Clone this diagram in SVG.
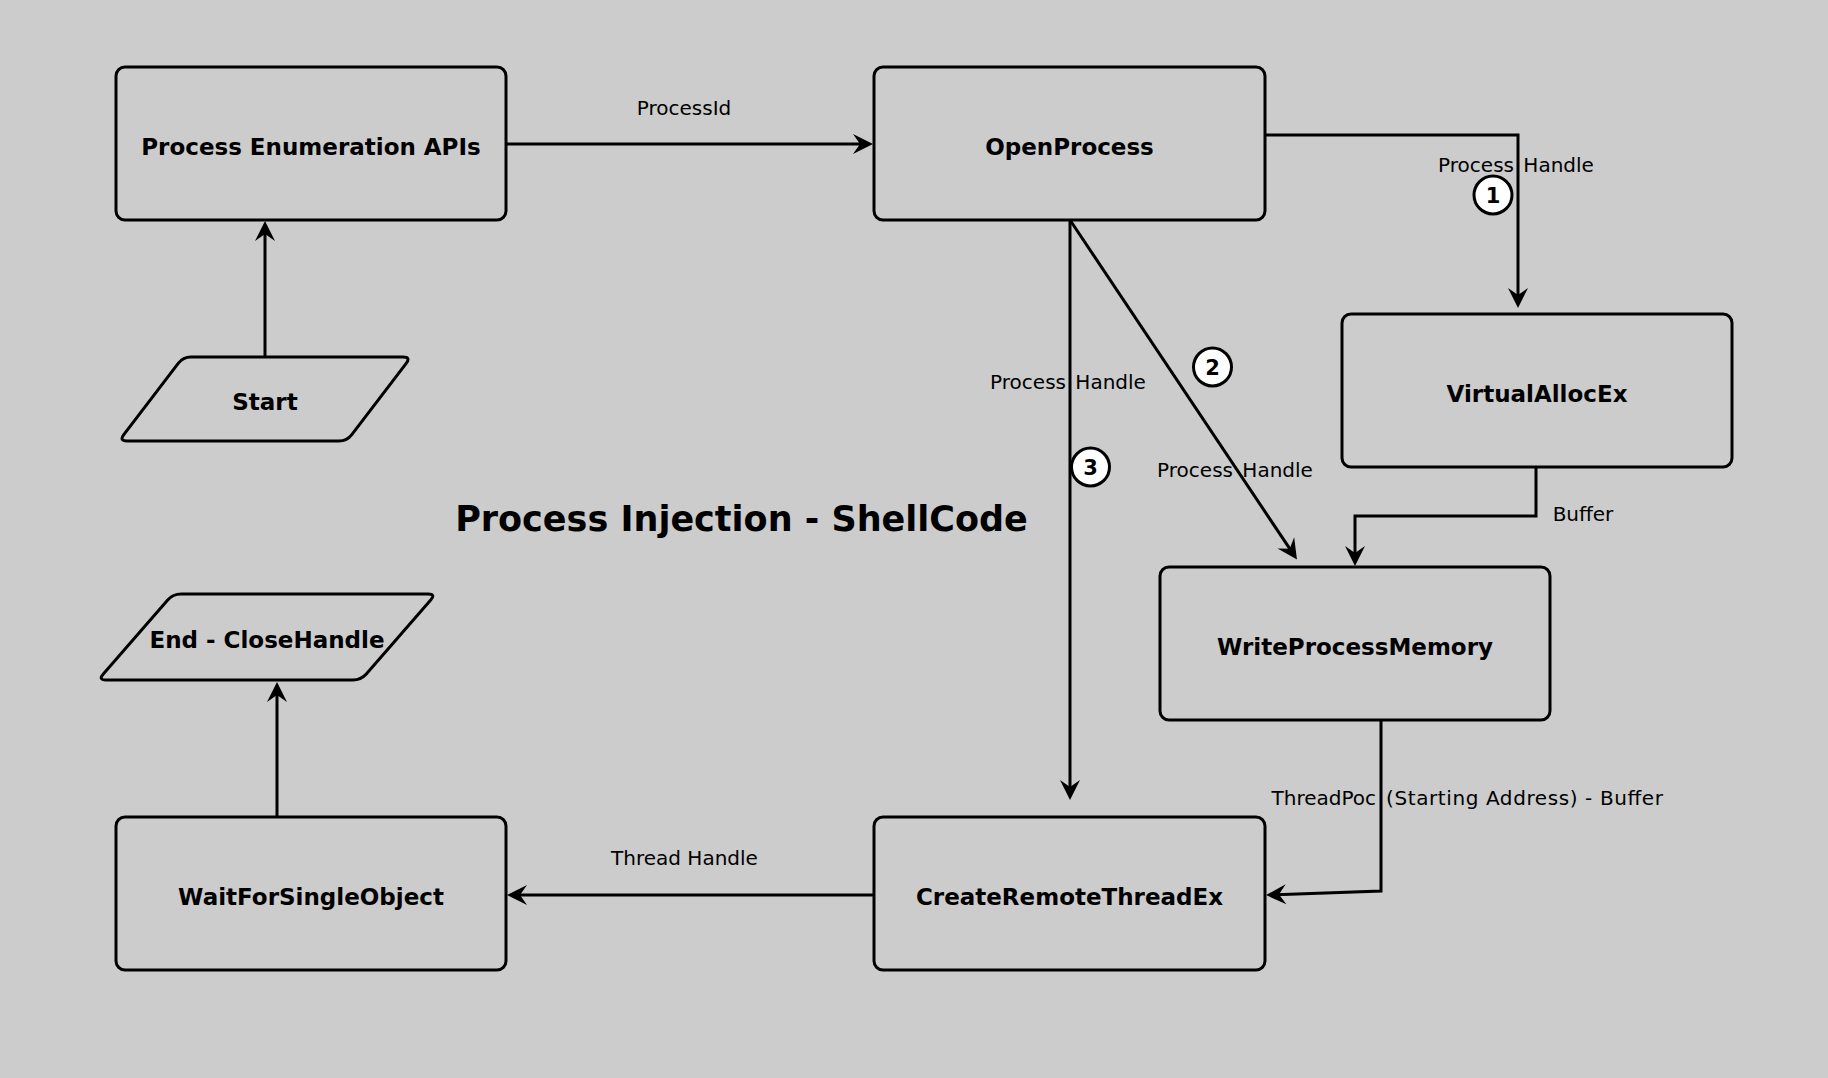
<svg xmlns="http://www.w3.org/2000/svg" width="1828" height="1078" viewBox="0 0 1828 1078">
<defs>
<style>
.node rect, .node path { fill: none; stroke: #000; stroke-width: 3; stroke-linejoin: round; }
.lbl { font-family: 'DejaVu Sans', sans-serif; font-weight: bold; font-size: 23px; text-anchor: middle; fill: #000; }
.edge { fill: none; stroke: #000; stroke-width: 3; stroke-linejoin: miter; marker-end: url(#arr); }
.elbl { font-family: 'DejaVu Sans', sans-serif; font-size: 20px; text-anchor: middle; fill: #000; }
.badge circle { fill: #fff; stroke: #000; stroke-width: 3; }
.badge text { font-family: 'DejaVu Sans', sans-serif; font-weight: bold; font-size: 21px; text-anchor: middle; fill: #000; }
.title { font-family: 'DejaVu Sans', sans-serif; font-weight: bold; font-size: 35px; text-anchor: middle; fill: #000; }
</style>
<marker id="arr" markerUnits="userSpaceOnUse" viewBox="-12 -12 24 24" markerWidth="24" markerHeight="24" refX="0" refY="0" orient="auto">
<path d="M10,0 L-10,-10 L-3,0 L-10,10 Z" fill="#000"/>
</marker>
</defs>
<rect x="0" y="0" width="1828" height="1078" fill="#cccccc"/>

<g id="connectors">
<path class="edge" d="M507,144 L863,144"/>
<path class="edge" d="M265,357 L265,231"/>
<path class="edge" d="M277,817 L277,692"/>
<path class="edge" d="M874,895 L517,895"/>
<path class="edge" d="M1265,135 L1518,135 L1518,298"/>
<path class="edge" d="M1070,220 L1070,790"/>
<path class="edge" d="M1070,220 L1291.4,551.2"/>
<path class="edge" d="M1536,467 L1536,516 L1355,516 L1355,556"/>
<path class="edge" d="M1381,721 L1381,891 L1276,894.7"/>
<text class="elbl" x="684" y="115">ProcessId</text>
<text class="elbl" x="1516" y="172" word-spacing="3">Process Handle</text>
<text class="elbl" x="1068" y="389" word-spacing="3">Process Handle</text>
<text class="elbl" x="1235" y="477" word-spacing="3">Process Handle</text>
<text class="elbl" x="1583" y="521">Buffer</text>
<text class="elbl" x="1468" y="805"><tspan x="1376" text-anchor="end">ThreadPoc</tspan><tspan x="1386" text-anchor="start" textLength="277">(Starting Address) - Buffer</tspan></text>
<text class="elbl" x="684.5" y="865">Thread Handle</text>
</g>

<g id="badge1" class="badge"><circle cx="1493" cy="195" r="19"/><text x="1493" y="202.5">1</text></g>
<g id="badge2" class="badge"><circle cx="1212.5" cy="367" r="19"/><text x="1212.5" y="374.5">2</text></g>
<g id="badge3" class="badge"><circle cx="1090.5" cy="467" r="19"/><text x="1090.5" y="474.5">3</text></g>

<g id="node-enum" class="node"><rect x="116" y="67" width="390" height="153" rx="9" ry="9"/><text class="lbl" x="311" y="155">Process Enumeration APIs</text></g>
<g id="node-openprocess" class="node"><rect x="874" y="67" width="391" height="153" rx="9" ry="9"/><text class="lbl" x="1069.5" y="155">OpenProcess</text></g>
<g id="node-virtualalloc" class="node"><rect x="1342" y="314" width="390" height="153" rx="9" ry="9"/><text class="lbl" x="1537" y="402">VirtualAllocEx</text></g>
<g id="node-writeprocessmemory" class="node"><rect x="1160" y="567" width="390" height="153" rx="9" ry="9"/><text class="lbl" x="1355" y="655">WriteProcessMemory</text></g>
<g id="node-createremotethread" class="node"><rect x="874" y="817" width="391" height="153" rx="9" ry="9"/><text class="lbl" x="1069.5" y="905">CreateRemoteThreadEx</text></g>
<g id="node-waitforsingleobject" class="node"><rect x="116" y="817" width="390" height="153" rx="9" ry="9"/><text class="lbl" x="311" y="905">WaitForSingleObject</text></g>
<g id="node-start" class="node"><path d="M191,357 L403,357 Q411,357 406.2,363.4 L351.8,434.6 Q347,441 339,441 L127,441 Q119,441 123.8,434.6 L178.2,363.4 Q183,357 191,357 Z"/><text class="lbl" x="265" y="410">Start</text></g>
<g id="node-end" class="node"><path d="M181,594 L428,594 Q436,594 430.7,600 L366.3,674 Q361,680 353,680 L106,680 Q98,680 103.3,674 L167.7,600 Q173,594 181,594 Z"/><text class="lbl" x="267" y="648">End - CloseHandle</text></g>

<text class="title" x="741.5" y="531">Process Injection - ShellCode</text>
</svg>
